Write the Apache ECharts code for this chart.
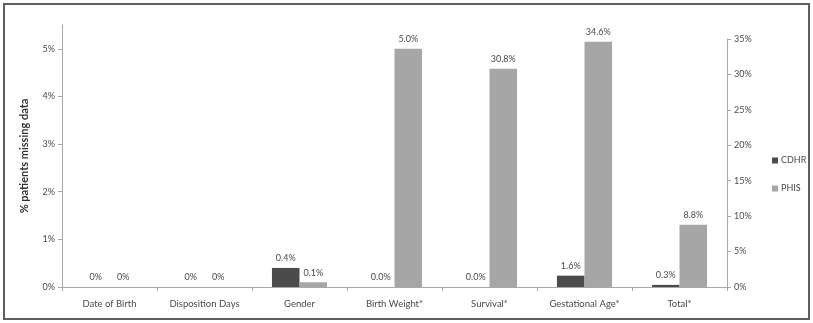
<!DOCTYPE html>
<html>
<head>
<meta charset="utf-8">
<script src="https://cdn.jsdelivr.net/npm/echarts@6/dist/echarts.min.js"></script>
<style>
  html, body { margin: 0; padding: 0; background: #fff; }
  #chart { width: 813px; height: 323px; }
</style>
</head>
<body>
<div id="chart"></div>
<script>
// Missing-data share per field, CDHR vs PHIS
const categories = ['Date of Birth', 'Disposition Days', 'Gender', 'Birth Weight*', 'Survival*', 'Gestational Age*', 'Total*'];
const cdhrValues = [0, 0, 0.4, 0.0, 0.0, 1.6, 0.3];
const phisValues = [0, 0, 0.1, 5.0, 30.8, 34.6, 8.8];
// axis each field is measured against
const axisSide = ['left', 'left', 'left', 'left', 'right', 'right', 'right'];
// decimals shown in each field's value labels
const labelDecimals = [0, 0, 1, 1, 1, 1, 1];
const leftTicks = [0, 1, 2, 3, 4, 5];
const rightTicks = [0, 5, 10, 15, 20, 25, 30, 35];

const FONT = 'Lato, "Open Sans", sans-serif';
const TEXT = '#4a4a4a';
const LINE = '#a8a8a8';
const CDHR_COLOR = '#4b4b4b';
const PHIS_COLOR = '#a6a6a6';

function pick(values, side) {
  return values.map((v, i) => (axisSide[i] === side ? v : null));
}

const valueLabel = {
  show: true,
  position: 'top',
  distance: 5,
  fontFamily: FONT,
  fontSize: 9,
  color: TEXT,
  formatter: p => p.value.toFixed(labelDecimals[p.dataIndex]) + '%'
};

function barSeries(name, values, side, color) {
  const idx = side === 'left' ? 0 : 1;
  return {
    name: name,
    type: 'bar',
    xAxisIndex: idx,
    yAxisIndex: idx,
    data: pick(values, side),
    itemStyle: { color: color },
    barCategoryGap: '42%',
    barGap: '0%',
    label: valueLabel,
    emphasis: { disabled: true }
  };
}

const xAxisCommon = {
  type: 'category',
  data: categories,
  axisLine: { lineStyle: { color: LINE, width: 1 } },
  axisTick: { show: true, length: 4, lineStyle: { color: LINE } },
  axisLabel: { color: TEXT, fontFamily: FONT, fontSize: 9.5, margin: 12 }
};

const chart = echarts.init(document.getElementById('chart'), null, { renderer: 'canvas' });
chart.setOption({
  animation: false,
  backgroundColor: '#fff',
  textStyle: { fontFamily: FONT },
  graphic: [{
    type: 'rect',
    shape: { x: 4, y: 4, width: 805, height: 315 },
    style: { fill: 'none', stroke: '#5e5e5e', lineWidth: 2 },
    z: 100
  }],
  grid: [
    { left: 62, right: 86, top: 25, bottom: 36 },
    { left: 62, right: 86, top: 39, bottom: 36 }
  ],
  legend: {
    orient: 'vertical',
    left: 767,
    top: 151,
    itemWidth: 6,
    itemHeight: 6,
    itemGap: 19,
    icon: 'rect',
    data: ['CDHR', 'PHIS'],
    textStyle: { color: TEXT, fontFamily: FONT, fontSize: 9, padding: [0, 0, 0, -2] }
  },
  xAxis: [
    Object.assign({ gridIndex: 0 }, xAxisCommon),
    Object.assign({ gridIndex: 1 }, xAxisCommon, { show: false })
  ],
  yAxis: [
    {
      gridIndex: 0,
      type: 'value',
      min: 0,
      max: 5.5,
      name: '% patients missing data',
      nameLocation: 'middle',
      nameGap: 32,
      nameRotate: 90,
      nameTextStyle: { color: '#333', fontFamily: FONT, fontSize: 11, fontWeight: 'bold' },
      axisLine: { show: true, lineStyle: { color: LINE } },
      axisTick: { show: true, length: 4, customValues: leftTicks, lineStyle: { color: LINE } },
      axisLabel: { customValues: leftTicks, formatter: '{value}%', color: TEXT, fontFamily: FONT, fontSize: 9, margin: 7 },
      splitLine: { show: false }
    },
    {
      gridIndex: 1,
      type: 'value',
      position: 'right',
      min: 0,
      max: 35,
      interval: 5,
      axisLine: { show: true, lineStyle: { color: LINE } },
      axisTick: { show: true, length: 4, customValues: rightTicks, lineStyle: { color: LINE } },
      axisLabel: { customValues: rightTicks, formatter: '{value}%', color: TEXT, fontFamily: FONT, fontSize: 9, margin: 7 },
      splitLine: { show: false }
    }
  ],
  series: [
    barSeries('CDHR', cdhrValues, 'left', CDHR_COLOR),
    barSeries('PHIS', phisValues, 'left', PHIS_COLOR),
    barSeries('CDHR', cdhrValues, 'right', CDHR_COLOR),
    barSeries('PHIS', phisValues, 'right', PHIS_COLOR)
  ]
});
</script>
</body>
</html>
